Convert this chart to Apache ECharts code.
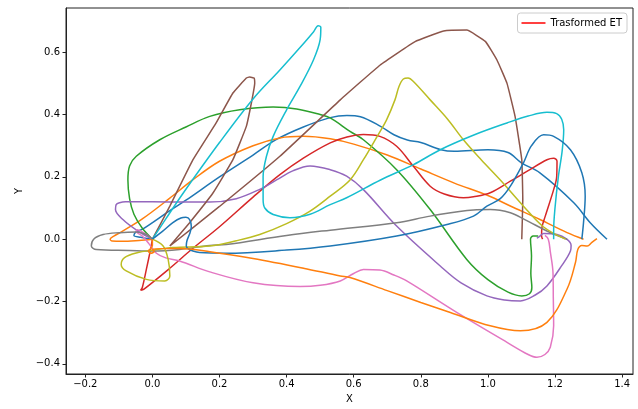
<!DOCTYPE html>
<html><head><meta charset="utf-8">
<script src="https://cdn.jsdelivr.net/npm/echarts@6/dist/echarts.min.js"></script>
<style>html,body{margin:0;padding:0;background:#fff}#c{width:638px;height:409px}</style>
</head><body><div id="c"></div>
<script>
const xTicks = [-0.2, 0.0, 0.2, 0.4, 0.6, 0.8, 1.0, 1.2, 1.4];
const yTicks = [-0.4, -0.2, 0.0, 0.2, 0.4, 0.6];
const legendName = 'Trasformed ET';

const blueA = [[0,0],[-0.035,0.006],[-0.055,0.012],[-0.05,0.022],[-0.028,0.033],[0.05,0.09],[0.1,0.125],[0.2,0.2],[0.3,0.27],[0.37,0.32],[0.45,0.36],[0.53,0.39],[0.58,0.397],[0.62,0.393],[0.68,0.362],[0.72,0.335],[0.76,0.318],[0.8,0.31],[0.86,0.287],[0.9,0.282],[1.0,0.287],[1.06,0.278],[1.1,0.245],[1.155,0.213],[1.256,0.117],[1.305,0.053],[1.355,0.0]];
const orangeA = [[0,0],[-0.04,-0.004],[-0.09,-0.007],[-0.12,-0.006],[-0.126,0.0],[-0.115,0.01],[-0.09,0.025],[-0.03,0.065],[0.05,0.13],[0.12,0.19],[0.2,0.25],[0.3,0.3],[0.38,0.325],[0.45,0.33],[0.53,0.322],[0.6,0.305],[0.7,0.27],[0.8,0.225],[0.9,0.18],[1.0,0.14],[1.07,0.105],[1.155,0.063],[1.236,0.021],[1.285,0.0]];
const green = [[0,0],[-0.03,0.035],[-0.055,0.08],[-0.068,0.13],[-0.073,0.19],[-0.068,0.235],[-0.048,0.266],[0.022,0.319],[0.1,0.36],[0.171,0.394],[0.26,0.415],[0.36,0.424],[0.43,0.418],[0.5,0.4],[0.53,0.389],[0.589,0.346],[0.629,0.319],[0.728,0.223],[0.828,0.095],[0.937,-0.065],[1.0,-0.13],[1.06,-0.17],[1.101,-0.182],[1.124,-0.175],[1.131,-0.155],[1.128,-0.11],[1.13,-0.054],[1.127,0.0],[1.135,0.01],[1.15,0.01]];
const red = [[0,0],[-0.005,-0.03],[-0.018,-0.097],[-0.03,-0.155],[-0.035,-0.164],[-0.025,-0.16],[0.05,-0.095],[0.12,-0.03],[0.2,0.04],[0.3,0.135],[0.38,0.207],[0.45,0.26],[0.53,0.309],[0.58,0.328],[0.629,0.336],[0.678,0.33],[0.728,0.298],[0.778,0.234],[0.828,0.17],[0.87,0.145],[0.927,0.133],[0.957,0.136],[1.007,0.149],[1.067,0.186],[1.12,0.22],[1.176,0.255],[1.196,0.26],[1.206,0.25],[1.205,0.2],[1.196,0.159],[1.171,0.074],[1.161,0.037],[1.16,0.01],[1.163,0.0]];
const purple = [[0,0],[-0.043,0.026],[-0.088,0.063],[-0.11,0.095],[-0.108,0.111],[-0.098,0.117],[-0.08,0.12],[0.0,0.12],[0.1,0.119],[0.171,0.119],[0.25,0.13],[0.32,0.16],[0.37,0.19],[0.42,0.22],[0.47,0.235],[0.53,0.223],[0.579,0.202],[0.629,0.159],[0.728,0.042],[0.858,-0.086],[0.92,-0.14],[0.997,-0.182],[1.05,-0.195],[1.097,-0.198],[1.14,-0.18],[1.176,-0.15],[1.22,-0.085],[1.246,-0.038],[1.248,-0.02],[1.235,0.0],[1.206,0.015],[1.166,0.018],[1.155,0.01],[1.146,0.003]];
const brown = [[0,0],[0.052,0.106],[0.121,0.255],[0.19,0.373],[0.24,0.469],[0.28,0.517],[0.29,0.52],[0.303,0.517],[0.305,0.5],[0.295,0.437],[0.28,0.362],[0.24,0.255],[0.181,0.149],[0.111,0.053],[0.052,-0.022],[0.2,0.105],[0.38,0.266],[0.56,0.447],[0.679,0.559],[0.783,0.634],[0.868,0.668],[0.937,0.671],[0.993,0.634],[1.027,0.575],[1.057,0.5],[1.081,0.394],[1.101,0.255],[1.104,0.127],[1.101,0.0]];
const pink = [[0,0],[-0.025,0.02],[-0.045,0.03],[-0.048,0.025],[-0.03,0.01],[-0.01,-0.015],[0.012,-0.045],[0.04,-0.06],[0.081,-0.07],[0.171,-0.105],[0.3,-0.14],[0.44,-0.152],[0.5,-0.148],[0.56,-0.134],[0.6,-0.11],[0.629,-0.097],[0.678,-0.099],[0.72,-0.115],[0.758,-0.134],[0.907,-0.235],[1.057,-0.331],[1.12,-0.37],[1.146,-0.379],[1.17,-0.37],[1.186,-0.347],[1.196,-0.278],[1.195,-0.19],[1.194,-0.107],[1.186,-0.04],[1.18,0.0],[1.17,0.012]];
const gray = [[0,0],[-0.018,0.015],[-0.048,0.023],[-0.098,0.021],[-0.147,0.015],[-0.175,0.0],[-0.182,-0.022],[-0.167,-0.033],[-0.068,-0.036],[0,-0.038],[0.081,-0.033],[0.171,-0.02],[0.22,-0.017],[0.4,0.012],[0.53,0.029],[0.728,0.053],[0.828,0.074],[0.957,0.094],[1.007,0.095],[1.067,0.085],[1.11,0.063],[1.186,0.021],[1.236,0.0]];
const olive = [[0,0],[0.032,-0.022],[0.047,-0.065],[0.052,-0.118],[0.037,-0.134],[-0.018,-0.129],[-0.078,-0.102],[-0.093,-0.081],[-0.083,-0.059],[-0.043,-0.043],[-0.003,-0.036],[0.061,-0.027],[0.171,-0.022],[0.25,-0.005],[0.32,0.015],[0.4,0.05],[0.47,0.09],[0.53,0.138],[0.589,0.19],[0.629,0.255],[0.67,0.33],[0.698,0.383],[0.723,0.447],[0.735,0.49],[0.748,0.514],[0.762,0.517],[0.778,0.506],[0.828,0.447],[0.88,0.385],[0.927,0.319],[0.98,0.255],[1.037,0.19],[1.106,0.106],[1.165,0.04],[1.231,0.0]];
const cyan = [[0,0],[0.04,0.065],[0.09,0.145],[0.2,0.31],[0.3,0.45],[0.38,0.543],[0.44,0.615],[0.48,0.665],[0.494,0.685],[0.502,0.68],[0.5,0.64],[0.48,0.575],[0.44,0.49],[0.4,0.415],[0.36,0.33],[0.34,0.266],[0.33,0.2],[0.33,0.127],[0.335,0.1],[0.36,0.079],[0.41,0.069],[0.47,0.08],[0.53,0.111],[0.579,0.133],[0.68,0.19],[0.778,0.239],[0.858,0.287],[0.96,0.335],[1.057,0.373],[1.12,0.395],[1.176,0.407],[1.205,0.403],[1.22,0.385],[1.226,0.351],[1.221,0.28],[1.21,0.2],[1.2,0.1],[1.196,0.03],[1.196,0.0]];
const blueB = [[0,0],[0.03,0.025],[0.061,0.053],[0.085,0.068],[0.1,0.07],[0.111,0.063],[0.116,0.04],[0.112,0.02],[0.103,-0.005],[0.101,-0.022],[0.106,-0.03],[0.121,-0.038],[0.141,-0.043],[0.22,-0.045],[0.4,-0.035],[0.53,-0.022],[0.728,0.01],[0.878,0.047],[0.957,0.074],[0.997,0.106],[1.037,0.13],[1.067,0.17],[1.106,0.245],[1.13,0.3],[1.166,0.335],[1.196,0.33],[1.246,0.287],[1.28,0.213],[1.29,0.138],[1.285,0.053],[1.28,0.0]];
const orangeB = [[0,0],[0.0,-0.02],[-0.005,-0.03],[-0.012,-0.038],[-0.005,-0.045],[0.005,-0.04],[0.0,-0.032],[0.081,-0.03],[0.171,-0.04],[0.3,-0.062],[0.45,-0.093],[0.56,-0.118],[0.589,-0.123],[0.7,-0.165],[0.8,-0.203],[0.888,-0.235],[1.007,-0.278],[1.097,-0.294],[1.176,-0.267],[1.236,-0.16],[1.261,-0.075],[1.268,-0.033],[1.28,-0.02],[1.296,-0.022],[1.31,-0.01],[1.325,0.002]];

const curves = [
  [blueA,'#1f77b4',0.35],[orangeA,'#ff7f0e',0.35],[green,'#2ca02c',0.35],[red,'#d62728',0.35],
  [purple,'#9467bd',0.35],[brown,'#8c564b',0.1],[pink,'#e377c2',0.35],[gray,'#7f7f7f',0.35],
  [olive,'#bcbd22',0.35],[cyan,'#17becf',0.35],[blueB,'#1f77b4',0.35],[orangeB,'#ff7f0e',0.35]
];
const fmt = v => (Math.abs(v) < 1e-9 ? '0.0' : v.toFixed(1).replace('-', '\u2212'));
const font = 'DejaVu Sans';
const series = curves.map((c, i) => ({
  type: 'line', name: 'c' + i, data: c[0], showSymbol: false, symbol: 'none',
  smooth: c[2], lineStyle: {color: c[1], width: 1.5}, itemStyle: {color: c[1]}, silent: true
}));
series.push({type: 'line', name: legendName, data: [], symbol: 'none', lineStyle: {color: '#ff0000', width: 1.5}, itemStyle: {color: '#ff0000'}});
const chart = echarts.init(document.getElementById('c'), null, {renderer: 'canvas'});
chart.setOption({
  animation: false,
  backgroundColor: '#fff',
  grid: {left: 66, right: 5, top: 8, bottom: 34, show: true, borderColor: '#222', borderWidth: 1, backgroundColor: 'transparent'},
  legend: {data: [legendName], right: 11, top: 13, icon: 'rect', itemWidth: 24, itemHeight: 1.5,
    padding: [5, 5, 5, 4], borderColor: '#ccc', borderWidth: 1, borderRadius: 3, backgroundColor: '#fff',
    textStyle: {fontFamily: font, fontSize: 10, color: '#000'}},
  xAxis: {type: 'value', min: -0.2575, max: 1.4325, name: 'X', nameLocation: 'middle', nameGap: 20,
    nameTextStyle: {fontFamily: font, fontSize: 10, color: '#000'},
    axisLine: {show: true, onZero: false, lineStyle: {color: '#222', width: 1}},
    axisTick: {show: true, length: 3.5, customValues: xTicks, lineStyle: {color: '#222'}},
    axisLabel: {customValues: xTicks, formatter: fmt, fontFamily: font, fontSize: 10, color: '#000', margin: 5},
    splitLine: {show: false}},
  yAxis: {type: 'value', min: -0.4326, max: 0.7418, name: 'Y', nameLocation: 'middle', nameGap: 38,
    nameTextStyle: {fontFamily: font, fontSize: 10, color: '#000'},
    axisLine: {show: true, onZero: false, lineStyle: {color: '#222', width: 1}},
    axisTick: {show: true, length: 3.5, customValues: yTicks, lineStyle: {color: '#222'}},
    axisLabel: {customValues: yTicks, formatter: fmt, fontFamily: font, fontSize: 10, color: '#000', margin: 6},
    splitLine: {show: false}},
  series: series
});
</script></body></html>
